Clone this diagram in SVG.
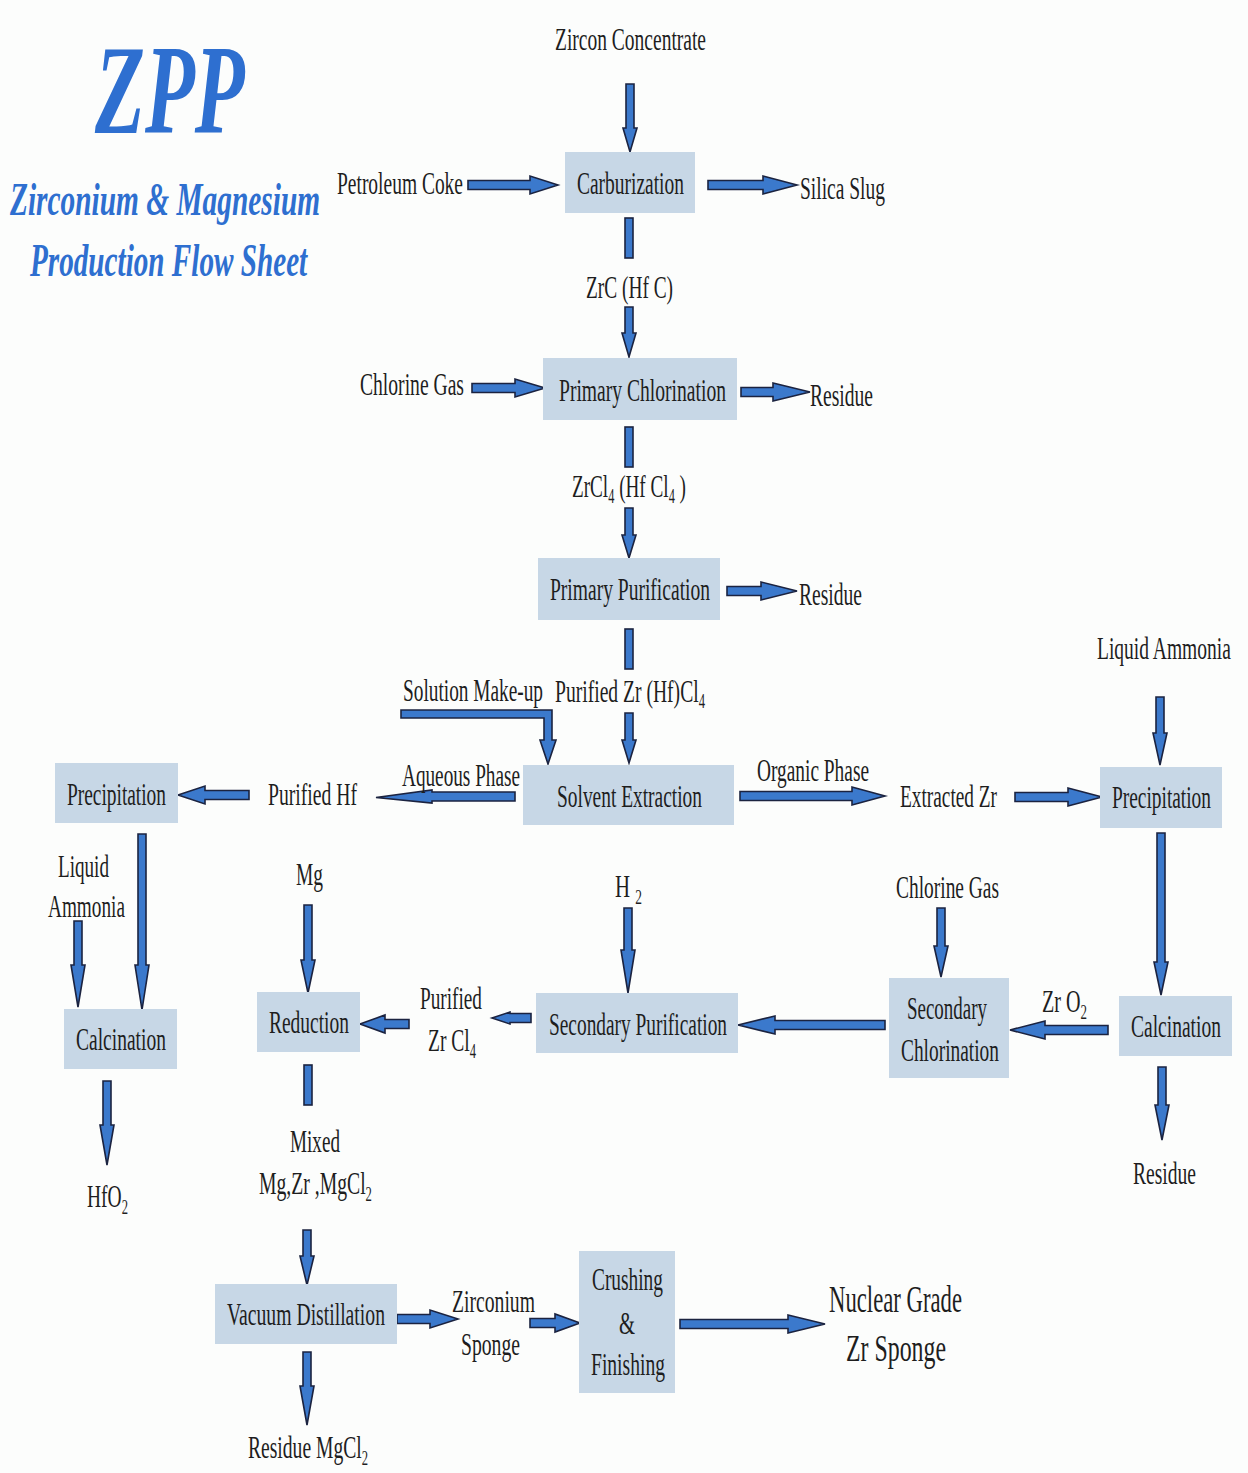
<svg xmlns="http://www.w3.org/2000/svg" width="1248" height="1473" viewBox="0 0 1248 1473">
<style>
.bg{fill:#fcfdfc}
.box{fill:#c7d7e6}
.t{font-family:"Liberation Serif","Times New Roman",serif;font-size:31px;fill:#1e1e1e}
.big{font-size:38px}
.sub{font-size:20px}
.title{font-family:"Liberation Serif","Times New Roman",serif;font-style:italic;font-weight:bold;fill:#2e6fd0}
.arr{fill:#3b79cc;stroke:#1b2340;stroke-width:1.6;stroke-linejoin:miter}
</style>
<rect class="bg" x="0" y="0" width="1248" height="1473"/>

<g id="title">
<text class="title" transform="translate(95,133) scale(0.64,1)" font-size="128" textLength="234" lengthAdjust="spacingAndGlyphs">ZPP</text>
<text class="title" transform="translate(10,215) scale(0.7,1)" font-size="46" textLength="443" lengthAdjust="spacingAndGlyphs">Zirconium &amp; Magnesium</text>
<text class="title" transform="translate(30,276) scale(0.7,1)" font-size="46" textLength="396" lengthAdjust="spacingAndGlyphs">Production Flow Sheet</text>
</g>

<g id="connectors">
<polygon class="arr" points="626,84 634,84 634,128 637,128 630,152 623,128 626,128"/>
<polygon class="arr" points="468,180.5 530,180.5 530,176 558,185 530,194 530,189.5 468,189.5"/>
<polygon class="arr" points="708,180.5 763,180.5 763,176 797,185 763,194 763,189.5 708,189.5"/>
<rect class="arr" x="625" y="218" width="8" height="40"/>
<polygon class="arr" points="625,307 633,307 633,333 636,333 629,357 622,333 625,333"/>
<polygon class="arr" points="472,383.5 515,383.5 515,379 545,388 515,397 515,392.5 472,392.5"/>
<polygon class="arr" points="741,387.5 773,387.5 773,383 810,392 773,401 773,396.5 741,396.5"/>
<rect class="arr" x="625" y="427" width="8" height="40"/>
<polygon class="arr" points="625,508 633,508 633,535 636,535 629,558 622,535 625,535"/>
<polygon class="arr" points="727,586.5 761,586.5 761,582 797,591 761,600 761,595.5 727,595.5"/>
<rect class="arr" x="625" y="629" width="8" height="40"/>
<polygon class="arr" points="625,713 633,713 633,740 636,740 629,763 622,740 625,740"/>
<polygon class="arr" points="401,710 552,710 552,740 556,740 548,764 540,740 544,740 544,718 401,718"/>
<polygon class="arr" points="515,792 432,792 432,790 376,797.5 432,803 432,801 515,801"/>
<polygon class="arr" points="740,791.5 852,791.5 852,787 885,796 852,805 852,800.5 740,800.5"/>
<polygon class="arr" points="1015,792.5 1068,792.5 1068,788 1102,797 1068,806 1068,801.5 1015,801.5"/>
<polygon class="arr" points="249,790.5 205,790.5 205,786 178,795 205,804 205,799.5 249,799.5"/>
<polygon class="arr" points="1156,697 1164,697 1164,733 1167,733 1160,765 1153,733 1156,733"/>
<polygon class="arr" points="1157,833 1165,833 1165,962 1168,962 1161,995 1154,962 1157,962"/>
<polygon class="arr" points="1158,1067 1166,1067 1166,1105 1169,1105 1162,1140 1155,1105 1158,1105"/>
<polygon class="arr" points="1108,1025.5 1045,1025.5 1045,1021 1010,1030 1045,1039 1045,1034.5 1108,1034.5"/>
<polygon class="arr" points="937,908 945,908 945,946 948,946 941,977 934,946 937,946"/>
<polygon class="arr" points="885,1020.5 775,1020.5 775,1016 738,1025 775,1034 775,1029.5 885,1029.5"/>
<polygon class="arr" points="624,908 632,908 632,950 635,950 628,993 621,950 624,950"/>
<polygon class="arr" points="531,1013.5 510,1013.5 510,1012 492,1018 510,1024 510,1022.5 531,1022.5"/>
<polygon class="arr" points="409,1019.5 385,1019.5 385,1015 360,1024 385,1033 385,1028.5 409,1028.5"/>
<polygon class="arr" points="304,905 312,905 312,960 315,960 308,993 301,960 304,960"/>
<rect class="arr" x="304" y="1065" width="8" height="40"/>
<polygon class="arr" points="303,1230 311,1230 311,1256 314,1256 307,1285 300,1256 303,1256"/>
<polygon class="arr" points="303,1352 311,1352 311,1386 314,1386 307,1425 300,1386 303,1386"/>
<polygon class="arr" points="397,1314.5 430,1314.5 430,1310 458,1319 430,1328 430,1323.5 397,1323.5"/>
<polygon class="arr" points="530,1318.5 555,1318.5 555,1314 580,1323 555,1332 555,1327.5 530,1327.5"/>
<polygon class="arr" points="680,1319.5 788,1319.5 788,1315 825,1324 788,1333 788,1328.5 680,1328.5"/>
<polygon class="arr" points="138,834 146,834 146,965 149,965 142,1010 135,965 138,965"/>
<polygon class="arr" points="74,921 82,921 82,965 85,965 78,1007 71,965 74,965"/>
<polygon class="arr" points="103,1081 111,1081 111,1125 114,1125 107,1165 100,1125 103,1125"/>
</g>

<g id="carburization"><rect class="box" x="565" y="152" width="130" height="61"/>
<text class="t" transform="translate(577,194) scale(0.6,1)" textLength="178.3" lengthAdjust="spacingAndGlyphs">Carburization</text></g>
<g id="primary-chlorination"><rect class="box" x="543" y="358" width="194" height="62"/>
<text class="t" transform="translate(559,401) scale(0.6,1)" textLength="278.3" lengthAdjust="spacingAndGlyphs">Primary Chlorination</text></g>
<g id="primary-purification"><rect class="box" x="538" y="558" width="182" height="62"/>
<text class="t" transform="translate(550,600) scale(0.6,1)" textLength="266.7" lengthAdjust="spacingAndGlyphs">Primary Purification</text></g>
<g id="solvent-extraction"><rect class="box" x="523" y="765" width="211" height="60"/>
<text class="t" transform="translate(557,807) scale(0.6,1)" textLength="241.7" lengthAdjust="spacingAndGlyphs">Solvent Extraction</text></g>
<g id="precipitation-left"><rect class="box" x="55" y="763" width="123" height="60"/>
<text class="t" transform="translate(67,805) scale(0.6,1)" textLength="165" lengthAdjust="spacingAndGlyphs">Precipitation</text></g>
<g id="precipitation-right"><rect class="box" x="1100" y="767" width="122" height="61"/>
<text class="t" transform="translate(1112,808) scale(0.6,1)" textLength="165" lengthAdjust="spacingAndGlyphs">Precipitation</text></g>
<g id="calcination-left"><rect class="box" x="64" y="1009" width="113" height="60"/>
<text class="t" transform="translate(76,1050) scale(0.6,1)" textLength="150" lengthAdjust="spacingAndGlyphs">Calcination</text></g>
<g id="reduction"><rect class="box" x="257" y="992" width="103" height="60"/>
<text class="t" transform="translate(269,1033) scale(0.6,1)" textLength="133.3" lengthAdjust="spacingAndGlyphs">Reduction</text></g>
<g id="secondary-purification"><rect class="box" x="536" y="993" width="202" height="60"/>
<text class="t" transform="translate(549,1035) scale(0.6,1)" textLength="296.7" lengthAdjust="spacingAndGlyphs">Secondary Purification</text></g>
<g id="secondary-chlorination"><rect class="box" x="889" y="978" width="120" height="100"/>
<text class="t" transform="translate(907,1019) scale(0.6,1)" textLength="133.3" lengthAdjust="spacingAndGlyphs">Secondary</text>
<text class="t" transform="translate(901,1061) scale(0.6,1)" textLength="163.3" lengthAdjust="spacingAndGlyphs">Chlorination</text></g>
<g id="calcination-right"><rect class="box" x="1119" y="996" width="113" height="60"/>
<text class="t" transform="translate(1131,1037) scale(0.6,1)" textLength="150" lengthAdjust="spacingAndGlyphs">Calcination</text></g>
<g id="vacuum-distillation"><rect class="box" x="215" y="1284" width="182" height="60"/>
<text class="t" transform="translate(227,1325) scale(0.6,1)" textLength="263.3" lengthAdjust="spacingAndGlyphs">Vacuum Distillation</text></g>
<g id="crushing-finishing"><rect class="box" x="579" y="1251" width="96" height="142"/>
<text class="t" transform="translate(592,1290) scale(0.6,1)" textLength="118.3" lengthAdjust="spacingAndGlyphs">Crushing</text>
<text class="t" transform="translate(619,1334) scale(0.6,1)" textLength="26.7" lengthAdjust="spacingAndGlyphs">&amp;</text>
<text class="t" transform="translate(591,1375) scale(0.6,1)" textLength="123.3" lengthAdjust="spacingAndGlyphs">Finishing</text></g>

<g id="labels">
<text class="t" transform="translate(555,50) scale(0.6,1)" textLength="251.7" lengthAdjust="spacingAndGlyphs">Zircon Concentrate</text>
<text class="t" transform="translate(337,194) scale(0.6,1)" textLength="210" lengthAdjust="spacingAndGlyphs">Petroleum Coke</text>
<text class="t" transform="translate(800,199) scale(0.6,1)" textLength="141.7" lengthAdjust="spacingAndGlyphs">Silica Slug</text>
<text class="t" transform="translate(586,298) scale(0.6,1)" textLength="145" lengthAdjust="spacingAndGlyphs">ZrC (Hf C)</text>
<text class="t" transform="translate(360,395) scale(0.6,1)" textLength="173.3" lengthAdjust="spacingAndGlyphs">Chlorine Gas</text>
<text class="t" transform="translate(810,406) scale(0.6,1)" textLength="105" lengthAdjust="spacingAndGlyphs">Residue</text>
<text class="t" transform="translate(572,497) scale(0.6,1)" textLength="190" lengthAdjust="spacingAndGlyphs">ZrCl<tspan class="sub" dy="6">4</tspan><tspan dy="-6"> (Hf Cl</tspan><tspan class="sub" dy="6">4</tspan><tspan dy="-6"> )</tspan></text>
<text class="t" transform="translate(799,605) scale(0.6,1)" textLength="105" lengthAdjust="spacingAndGlyphs">Residue</text>
<text class="t" transform="translate(1097,659) scale(0.6,1)" textLength="223" lengthAdjust="spacingAndGlyphs">Liquid Ammonia</text>
<text class="t" transform="translate(403,701) scale(0.6,1)" textLength="233.3" lengthAdjust="spacingAndGlyphs">Solution Make-up</text>
<text class="t" transform="translate(555,702) scale(0.6,1)" textLength="250" lengthAdjust="spacingAndGlyphs">Purified Zr (Hf)Cl<tspan class="sub" dy="6">4</tspan></text>
<text class="t" transform="translate(402,786) scale(0.6,1)" textLength="196.7" lengthAdjust="spacingAndGlyphs">Aqueous Phase</text>
<text class="t" transform="translate(757,781) scale(0.6,1)" textLength="186.7" lengthAdjust="spacingAndGlyphs">Organic Phase</text>
<text class="t" transform="translate(900,807) scale(0.6,1)" textLength="161.7" lengthAdjust="spacingAndGlyphs">Extracted Zr</text>
<text class="t" transform="translate(268,805) scale(0.6,1)" textLength="148.3" lengthAdjust="spacingAndGlyphs">Purified Hf</text>
<text class="t" transform="translate(58,877) scale(0.6,1)" textLength="85" lengthAdjust="spacingAndGlyphs">Liquid</text>
<text class="t" transform="translate(48,917) scale(0.6,1)" textLength="128.3" lengthAdjust="spacingAndGlyphs">Ammonia</text>
<text class="t" transform="translate(296,885) scale(0.6,1)" textLength="45" lengthAdjust="spacingAndGlyphs">Mg</text>
<text class="t" transform="translate(615,897) scale(0.6,1)" textLength="45" lengthAdjust="spacingAndGlyphs">H <tspan class="sub" dy="7">2</tspan></text>
<text class="t" transform="translate(896,898) scale(0.6,1)" textLength="171.7" lengthAdjust="spacingAndGlyphs">Chlorine Gas</text>
<text class="t" transform="translate(1042,1012) scale(0.6,1)" textLength="75" lengthAdjust="spacingAndGlyphs">Zr O<tspan class="sub" dy="7">2</tspan></text>
<text class="t" transform="translate(1133,1184) scale(0.6,1)" textLength="105" lengthAdjust="spacingAndGlyphs">Residue</text>
<text class="t" transform="translate(420,1009) scale(0.6,1)" textLength="103.3" lengthAdjust="spacingAndGlyphs">Purified</text>
<text class="t" transform="translate(428,1051) scale(0.6,1)" textLength="80" lengthAdjust="spacingAndGlyphs">Zr Cl<tspan class="sub" dy="7">4</tspan></text>
<text class="t" transform="translate(87,1207) scale(0.6,1)" textLength="68.3" lengthAdjust="spacingAndGlyphs">HfO<tspan class="sub" dy="7">2</tspan></text>
<text class="t" transform="translate(290,1152) scale(0.6,1)" textLength="83.3" lengthAdjust="spacingAndGlyphs">Mixed</text>
<text class="t" transform="translate(259,1194) scale(0.6,1)" textLength="188.3" lengthAdjust="spacingAndGlyphs">Mg,Zr ,MgCl<tspan class="sub" dy="7">2</tspan></text>
<text class="t" transform="translate(452,1312) scale(0.6,1)" textLength="138.3" lengthAdjust="spacingAndGlyphs">Zirconium</text>
<text class="t" transform="translate(461,1355) scale(0.6,1)" textLength="98.3" lengthAdjust="spacingAndGlyphs">Sponge</text>
<text class="t big" transform="translate(829,1312) scale(0.6,1)" textLength="221.7" lengthAdjust="spacingAndGlyphs">Nuclear Grade</text>
<text class="t big" transform="translate(846,1361) scale(0.6,1)" textLength="166.7" lengthAdjust="spacingAndGlyphs">Zr  Sponge</text>
<text class="t" transform="translate(248,1458) scale(0.6,1)" textLength="200" lengthAdjust="spacingAndGlyphs">Residue MgCl<tspan class="sub" dy="7">2</tspan></text>
</g>
</svg>
